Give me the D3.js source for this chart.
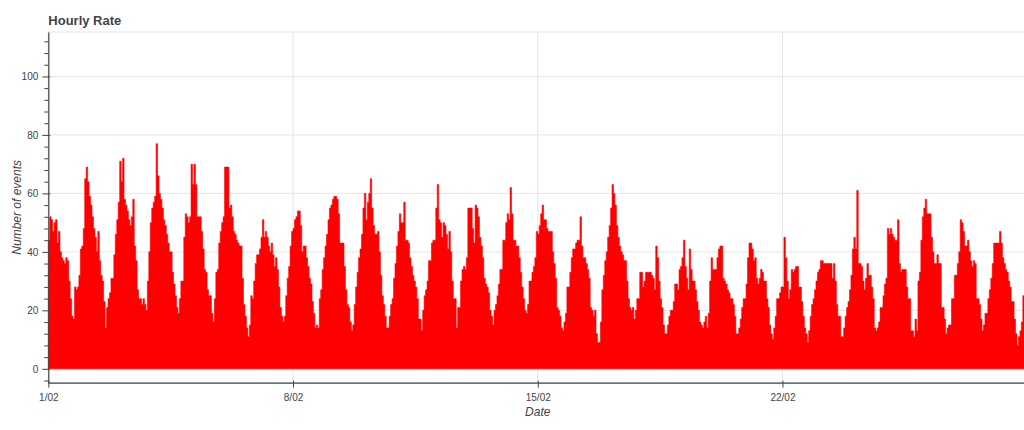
<!DOCTYPE html>
<html><head><meta charset="utf-8">
<script src="https://cdn.jsdelivr.net/npm/d3@7"></script>
<style>body{margin:0;background:#fff;overflow:hidden;} svg{display:block;}</style>
</head><body><svg id="chart" width="1024" height="430"></svg>
<script>
// ---------------- data ----------------
const chartTitle = "Hourly Rate";
const xAxisLabel = "Date";
const yAxisLabel = "Number of events";
const xTickDates = [[2021,1,1],[2021,1,8],[2021,1,15],[2021,1,22]];
const xTickLabels = ["1/02","8/02","15/02","22/02"];
const yTickValues = [0,20,40,60,80,100];
// hourly number of events from 1/02 00:00, one row per day
const hourlyEvents = [
 44,52,51,47,50,51,43,47,40,38,37,36,38,37,30,24,18,17,28,27,28,32,41,42,
 48,65,69,64,59,56,52,48,45,40,47,37,32,30,23,14,21,24,26,31,31,39,46,51,
 57,71,64,72,58,56,54,51,49,52,58,42,37,27,24,24,22,24,22,20,30,40,50,55,
 57,59,77,66,60,58,55,51,49,46,43,40,40,33,29,25,21,19,24,30,30,45,53,52,
 50,52,70,63,70,63,52,52,52,47,41,34,33,27,25,25,19,16,24,33,34,43,47,50,
 52,69,69,69,55,56,52,47,46,44,43,42,42,31,22,18,14,11,15,25,24,30,36,39,
 39,41,45,51,45,47,45,42,40,43,39,35,38,34,28,21,18,16,18,25,31,35,42,47,
 48,51,52,54,54,49,40,42,42,38,35,31,29,23,19,14,15,14,24,27,34,38,42,46,
 51,55,56,58,59,59,58,53,43,43,43,35,27,22,21,16,13,15,22,28,33,38,41,46,
 55,60,51,57,60,65,55,49,46,46,47,40,32,25,22,18,14,14,18,22,24,31,36,42,
 47,53,50,50,57,44,44,43,38,35,32,30,28,24,17,17,13,20,25,27,30,37,37,43,
 44,44,55,63,51,50,45,50,49,46,41,47,40,30,24,24,14,21,21,30,34,35,34,38,
 55,55,55,48,43,56,55,52,45,42,38,31,29,28,26,20,18,15,20,22,25,29,34,34,
 44,44,50,53,51,62,53,44,44,42,42,38,33,28,24,20,19,22,30,30,33,35,38,47,
 46,49,53,56,51,51,48,47,47,47,40,36,31,21,20,18,14,13,16,19,28,28,33,38,
 41,41,43,44,44,52,42,38,38,36,34,31,21,20,18,20,12,9,9,16,27,32,37,40,
 45,49,55,63,60,56,49,45,42,40,39,37,37,30,24,21,20,21,17,20,24,24,33,33,
 28,30,33,33,33,33,32,31,27,42,38,30,24,21,15,12,12,15,18,20,20,23,29,29,
 27,34,35,38,44,35,31,27,41,34,30,30,27,23,20,16,15,14,16,18,14,19,30,38,
 34,34,34,38,41,42,42,31,30,29,27,26,24,24,22,18,12,12,14,17,21,24,24,29,
 38,43,43,41,37,38,31,29,31,34,33,30,30,24,21,15,12,10,14,18,24,24,26,28,
 28,45,38,30,24,27,34,33,34,35,35,28,28,23,18,14,12,9,13,18,22,24,27,30,
 33,34,37,37,36,36,36,36,36,36,31,36,30,22,18,18,11,11,14,18,21,23,27,32,
 41,45,41,61,36,36,35,30,27,31,36,32,32,28,24,14,13,14,16,21,21,25,29,31,
 48,46,48,46,45,44,44,51,36,33,34,34,34,28,24,24,13,13,11,17,13,30,33,44,
 52,55,58,53,53,53,45,40,36,36,39,36,36,21,21,17,12,14,15,15,24,24,32,32,
 36,40,51,50,47,42,42,44,40,37,35,37,36,24,24,22,17,13,15,19,19,24,27,31,
 36,43,43,43,43,47,43,38,36,34,33,30,28,23,23,17,12,8,11,13,16,25
];

// ---------------- layout ----------------
const FONT = "Helvetica, 'Liberation Sans', Arial, sans-serif";
const frame = {left: 48.3, top: 32, right: 1027.2, bottom: 382.7};
const startDate = new Date(2021, 1, 1);
const endDate = new Date(2021, 2, 1);

const svg = d3.select("#chart");

const x = d3.scaleTime().domain([startDate, endDate]).range([frame.left, frame.right]);
const y = d3.scaleLinear().domain([-4.75, 115.2]).range([frame.bottom, frame.top]);

const tickDates = xTickDates.map(d => new Date(d[0], d[1], d[2]));

// grid (underlay)
const grid = svg.append("g");
grid.selectAll("line.h").data(yTickValues).join("line")
  .attr("x1", frame.left).attr("x2", frame.right)
  .attr("y1", d => y(d)).attr("y2", d => y(d))
  .attr("stroke", "#e5e5e5").attr("stroke-width", 1);
grid.selectAll("line.v").data(tickDates).join("line")
  .attr("x1", d => x(d)).attr("x2", d => x(d))
  .attr("y1", frame.top).attr("y2", frame.bottom)
  .attr("stroke", "#e5e5e5").attr("stroke-width", 1);

// frame outline
svg.append("rect")
  .attr("x", frame.left).attr("y", frame.top)
  .attr("width", frame.right - frame.left).attr("height", frame.bottom - frame.top)
  .attr("fill", "none").attr("stroke", "#e5e5e5");

// hourly bars drawn as one stepped area (each hour = one flat step)
const bars = hourlyEvents.map((v, i) => ({t: d3.timeHour.offset(startDate, i), v}));
const last = bars[bars.length - 1];
const steps = bars.concat([{t: d3.timeHour.offset(last.t, 1), v: last.v}]);
const area = d3.area()
  .curve(d3.curveStepAfter)
  .x(d => x(d.t))
  .y0(y(0))
  .y1(d => y(d.v));
svg.append("path").datum(steps)
  .attr("d", area)
  .attr("fill", "#ff0000")
  .attr("stroke", "#ff0000")
  .attr("stroke-width", 0.6)
  .attr("stroke-linejoin", "miter");

// y axis
const yAxis = svg.append("g").attr("transform", `translate(${frame.left},0)`)
  .call(d3.axisLeft(y).tickValues(yTickValues).tickSizeInner(6).tickSizeOuter(0).tickPadding(4));
yAxis.select(".domain").attr("stroke", "#444").attr("stroke-width", 1.2);
yAxis.selectAll(".tick line").attr("x1", 2).attr("stroke", "#444");
yAxis.selectAll(".tick text").attr("font-family", FONT).attr("font-size", 10).attr("fill", "#444");
const minorY = d3.range(-4, 116, 4).filter(v => v % 20 !== 0);
svg.append("g").attr("transform", `translate(${frame.left},0)`)
  .call(d3.axisLeft(y).tickValues(minorY).tickSize(4).tickFormat(""))
  .call(g => g.select(".domain").remove())
  .selectAll(".tick line").attr("stroke", "#444");

// x axis
const xAxis = svg.append("g").attr("transform", `translate(0,${frame.bottom})`)
  .call(d3.axisBottom(x).tickValues(tickDates).tickFormat((d, i) => xTickLabels[i])
        .tickSizeInner(5).tickSizeOuter(0).tickPadding(6));
xAxis.select(".domain").attr("stroke", "#444").attr("stroke-width", 1.2);
xAxis.selectAll(".tick line").attr("y1", -2).attr("stroke", "#444");
xAxis.selectAll(".tick text").attr("font-family", FONT).attr("font-size", 10).attr("fill", "#444");

// labels
svg.append("text")
  .attr("x", (frame.left + frame.right) / 2).attr("y", 416)
  .attr("text-anchor", "middle").attr("font-family", FONT).attr("font-size", 12)
  .attr("font-style", "italic").attr("fill", "#444").text(xAxisLabel);
svg.append("text")
  .attr("transform", `translate(21,${(frame.top + frame.bottom) / 2}) rotate(-90)`)
  .attr("text-anchor", "middle").attr("font-family", FONT).attr("font-size", 12)
  .attr("font-style", "italic").attr("fill", "#444").text(yAxisLabel);
svg.append("text")
  .attr("x", frame.left).attr("y", 25)
  .attr("font-family", FONT).attr("font-size", 13).attr("font-weight", "bold")
  .attr("fill", "#444").text(chartTitle);
</script>
</body></html>
